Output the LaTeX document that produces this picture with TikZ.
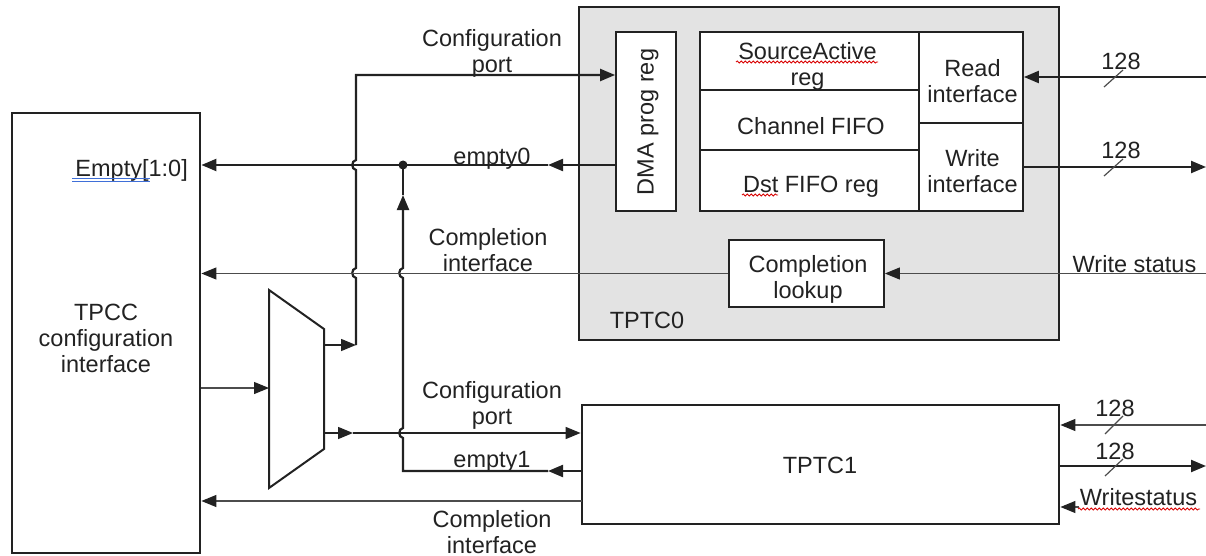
\documentclass[tikz,border=0pt]{standalone}
\usepackage{fontspec}
\setmainfont{Liberation Sans}
\usetikzlibrary{arrows.meta,decorations.pathmorphing}
\definecolor{boxgray}{HTML}{E3E3E3}
\definecolor{ink}{HTML}{222222}
\definecolor{spellblue}{HTML}{3F6FD8}
\begin{document}
\begin{tikzpicture}[x=1pt,y=-1pt,
  txt/.style={font=\fontsize{23.5}{26}\selectfont, text=ink, inner sep=0pt, align=center},
  blk/.style={draw=ink, line width=2.8pt, inner sep=0pt},
  cell/.style={draw=ink, line width=1.8pt, fill=white, inner sep=0pt},
  thk/.style={line width=2.2pt, draw=ink},
  med/.style={line width=1.5pt, draw=ink},
  thn/.style={line width=1.2pt, draw=black!70},
  tip/.style={-{Triangle[length=15pt,width=12pt,color=ink]}},
  wavy/.style={draw=red!85!black, line width=0.8pt, decorate, decoration={snake, amplitude=1.1pt, segment length=4pt}},
]
\useasboundingbox (0,0) rectangle (1206,556);

% ---------- blocks ----------
\node[blk, minimum width=188pt, minimum height=440pt] (tpcc) at (106,333) {};
\node[txt] (tpcclbl) at (106,338.5) {TPCC\\configuration\\interface};
\node[txt, anchor=base east] (emptylbl) at (188,177) {Empty[1:0]};

\node[blk, fill=boxgray, minimum width=480pt, minimum height=333pt] (tptc0) at (819,173.5) {};
\node[txt] (tptc0lbl) at (647,320.6) {TPTC0};

\node[cell, minimum width=60pt, minimum height=179pt] (dma) at (646,121.5) {};
\node[txt, rotate=90] (dmalbl) at (648,122) {DMA prog reg};

\node[cell, minimum width=219pt, minimum height=58pt] (src) at (809.5,61) {};
\node[cell, minimum width=219pt, minimum height=60pt] (chf) at (809.5,120) {};
\node[cell, minimum width=219pt, minimum height=61pt] (dst) at (809.5,180.5) {};
\node[cell, minimum width=104pt, minimum height=91pt] (readif) at (971,77.5) {};
\node[cell, minimum width=104pt, minimum height=88pt] (writeif) at (971,167) {};
\node[txt] (srclbl) at (807.5,66.4) {SourceActive\\reg};
\node[txt] (chflbl) at (811,126.4) {Channel FIFO};
\node[txt] (dstlbl) at (811,186.9) {Dst FIFO reg};
\node[txt] (readlbl) at (972.5,80.9) {Read\\interface};
\node[txt] (writelbl) at (972.5,171.4) {Write\\interface};

\node[cell, minimum width=155pt, minimum height=67pt] (compl) at (806.5,273.5) {};
\node[txt] (compllbl) at (808,279.4) {Completion\\lookup};

\node[blk, fill=white, minimum width=477pt, minimum height=119pt] (tptc1) at (820.5,464.5) {};
\node[txt] (tptc1lbl) at (820,465) {TPTC1};

% ---------- multiplexer ----------
\draw[line width=2pt, draw=ink] (269,290) -- (324,329) -- (324,449) -- (269,488) -- cycle;
\coordinate (muxin) at (269,388);
\coordinate (muxo1) at (324,345);
\coordinate (muxo2) at (324,433);

% ---------- helper coordinates ----------
\coordinate (c1) at (356,345);
\coordinate (c1top) at (356,75);
\coordinate (dot) at (403,165);
\coordinate (e1) at (403,471);
\coordinate (up) at (403,195);
\coordinate (m0) at (548,165);
\coordinate (m1) at (548,471);
\coordinate (m2) at (353,433);
\coordinate (cl1) at (582,501);
\coordinate (rd) at (1206,77);
\coordinate (wr) at (1206,167);
\coordinate (ws) at (1206,273.5);
\coordinate (t1in) at (1206,425);
\coordinate (t1out) at (1206,466);
\coordinate (t1ws) at (1079,507);

% ---------- connectors ----------
\draw[thn,tip] (tpcc.east |- muxin) -- (muxin);
\draw[med,tip] (muxo1) -- (c1);
\draw[thk,tip] (c1) -- (356,278) .. controls (351,277) and (351,269) .. (356,268)
   -- (356,170) .. controls (351,169) and (351,161) .. (356,160)
   -- (c1top) -- (dma.west |- c1top);

\draw[thk,tip] (dma.west |- dot) -- (m0);
\draw[thk,tip] (m0) -- (tpcc.east |- dot);

\draw[thk,tip] (tptc1.west |- e1) -- (m1);
\draw[thk,tip] (m1) -- (e1) -- (403,438) .. controls (398,437) and (398,429) .. (403,428)
   -- (403,278) .. controls (398,277) and (398,269) .. (403,268) -- (up);
\draw[thk] (up) -- (dot);
\fill[ink] (dot) circle (4.5pt);

\draw[med,tip] (muxo2) -- (m2);
\draw[med,tip] (m2) -- (tptc1.west |- m2);

\draw[thn,tip] (compl.west) -- (tpcc.east |- compl.west);
\draw[thn,tip] (ws) -- (compl.east);
\draw[thn,tip] (cl1) -- (tpcc.east |- cl1);

\draw[thk,tip] (rd) -- (readif.east |- rd);
\draw[thk,tip] (writeif.east |- wr) -- (wr);
\draw[thn,tip] (t1in) -- (tptc1.east |- t1in);
\draw[thk,tip] (tptc1.east |- t1out) -- (t1out);
\draw[thn,tip] (t1ws) -- (tptc1.east |- t1ws);

% bus width slashes
\draw[thn] (1104,87) -- (1123,70);
\draw[thn] (1104,176) -- (1123,159);
\draw[thn] (1105,434) -- (1123,416);
\draw[thn] (1105,476) -- (1123,459);

% ---------- connector labels ----------
\node[txt] (cfg0lbl) at (492,53.9) {Configuration\\port};
\node[txt] (e0lbl) at (492,159) {empty0};
\node[txt] (cmp0lbl) at (488,250.4) {Completion\\interface};
\node[txt] (cfg1lbl) at (492,405.8) {Configuration\\port};
\node[txt] (e1lbl) at (492,462) {empty1};
\node[txt] (cmp1lbl) at (492,532) {Completion\\interface};
\node[txt, anchor=base] (wslbl) at (1134.5,272) {Write status};
\node[txt] (b1) at (1121,61) {128};
\node[txt] (b2) at (1121,150) {128};
\node[txt] (b3) at (1115,408.5) {128};
\node[txt] (b4) at (1115,451.5) {128};
\node[txt, anchor=base] (t1wslbl) at (1138.5,505) {Writestatus};

% ---------- spell-check marks ----------
\draw[spellblue, line width=0.9pt] (72,178) -- (150,178);
\draw[spellblue, line width=0.9pt] (72,181.5) -- (150,181.5);
\draw[wavy] (736,62) -- (878,62);
\draw[wavy] (742,195) -- (778,195);
\draw[wavy] (1078,509) -- (1200,509);
\end{tikzpicture}
\end{document}
